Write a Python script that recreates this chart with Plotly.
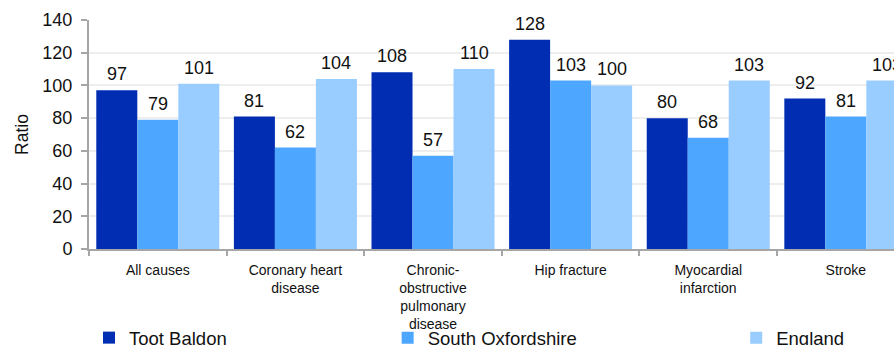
import plotly.graph_objects as go

# Standardised admission ratios by cause
categories = [
    "All causes",
    "Coronary heart<br>disease",
    "Chronic-<br>obstructive<br>pulmonary<br>disease",
    "Hip fracture",
    "Myocardial<br>infarction",
    "Stroke",
]
toot_baldon = [97, 81, 108, 128, 80, 92]
south_oxfordshire = [79, 62, 57, 103, 68, 81]
england = [101, 104, 110, 100, 103, 103]

# each series gets its own legend box so the three keys can sit apart
series = [
    ("Toot Baldon", toot_baldon, "#002db2", "legend2", 0.0),
    ("South Oxfordshire", south_oxfordshire, "#4da6ff", "legend3", 0.371),
    ("England", england, "#99ccff", "legend4", 0.804),
]

FONT = "Liberation Sans, Arial, sans-serif"
BARGAP = 0.106
PLOT_W = 894 - 89
X_RANGE = [-0.5, 5.35]

fig = go.Figure()
for name, vals, color, leg, _ in series:
    fig.add_trace(
        go.Bar(
            name=name,
            x=categories,
            y=vals,
            marker=dict(color=color, line=dict(width=0)),
            legend=leg,
        )
    )

# Value labels above each bar, shifted sideways to the bar's slot in its group
px_per_cat = PLOT_W / (X_RANGE[1] - X_RANGE[0])
bar_px = px_per_cat * (1 - BARGAP) / len(series)
for i, (name, vals, color, leg, _) in enumerate(series):
    for cat, v in zip(categories, vals):
        fig.add_annotation(
            x=cat,
            y=v,
            text=str(v),
            showarrow=False,
            xanchor="center",
            yanchor="bottom",
            xshift=(i - 1) * bar_px,
            yshift=4,
            font=dict(family=FONT, size=18, color="#111111"),
        )

leg_common = dict(
    orientation="h",
    yref="container",
    y=0.02,
    yanchor="middle",
    xanchor="left",
    font=dict(family=FONT, size=18.5, color="#111111"),
    bgcolor="rgba(0,0,0,0)",
    borderwidth=0,
)
legends = {leg: dict(leg_common, x=lx) for _, _, _, leg, lx in series}

fig.update_layout(
    width=894,
    height=345,
    margin=dict(l=89, r=0, t=20, b=96, autoexpand=False),
    paper_bgcolor="white",
    plot_bgcolor="white",
    barmode="group",
    bargap=BARGAP,
    bargroupgap=0,
    font=dict(family=FONT, color="#111111"),
    xaxis=dict(
        range=X_RANGE,
        showline=True,
        linecolor="#a6a6a6",
        linewidth=2,
        ticks="outside",
        tickson="boundaries",
        ticklen=5,
        tickcolor="#a6a6a6",
        tickwidth=1.5,
        tickfont=dict(family=FONT, size=14, color="#111111"),
        ticklabelstandoff=7,
        showgrid=False,
        tickangle=0,
        automargin=False,
    ),
    yaxis=dict(
        range=[0, 140],
        dtick=20,
        showline=True,
        linecolor="#a6a6a6",
        linewidth=2,
        ticks="outside",
        ticklen=6,
        tickcolor="#a6a6a6",
        tickwidth=1.5,
        tickfont=dict(family=FONT, size=18, color="#111111"),
        ticklabelstandoff=5,
        showgrid=True,
        gridcolor="#eeeeee",
        gridwidth=1.5,
        zeroline=False,
        automargin=False,
        title=dict(text="Ratio", font=dict(family=FONT, size=17.5, color="#111111"), standoff=9),
    ),
    **legends,
)

fig.write_html("out.html")
